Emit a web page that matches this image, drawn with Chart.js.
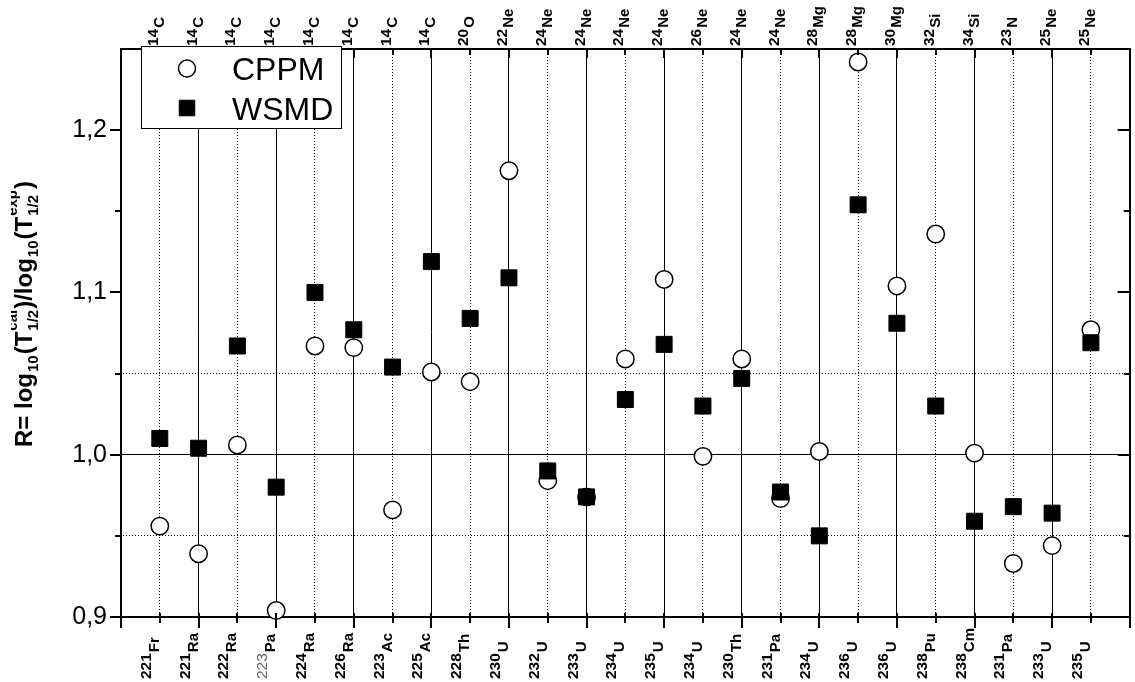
<!DOCTYPE html>
<html>
<head>
<meta charset="utf-8">
<title>R = log10(T1/2 cal) / log10(T1/2 exp)</title>
<script src="https://cdn.jsdelivr.net/npm/chart.js@4.4.1/dist/chart.umd.min.js"></script>
<style>
  html, body { margin: 0; padding: 0; background: #fff; overflow: hidden; }
  #wrap { position: relative; width: 1142px; height: 682px; }
</style>
</head>
<body>
<div id="wrap"><canvas id="c"></canvas></div>
<script>
// Parent nuclei (bottom axis) and emitted clusters (top axis)
const parents = ['221Fr','221Ra','222Ra','223Pa','224Ra','226Ra','223Ac','225Ac','228Th','230U',
                 '232U','233U','234U','235U','234U','230Th','231Pa','234U','236U','236U',
                 '238Pu','238Cm','231Pa','233U','235U'];
const clusters = ['14C','14C','14C','14C','14C','14C','14C','14C','20O','22Ne',
                  '24Ne','24Ne','24Ne','24Ne','26Ne','24Ne','24Ne','28Mg','28Mg','30Mg',
                  '32Si','34Si','23N','25Ne','25Ne'];

// R values for the two models
const cppm = [0.956, 0.939, 1.006, 0.904, 1.067, 1.066, 0.966, 1.051, 1.045, 1.175,
              0.984, 0.974, 1.059, 1.108, 0.999, 1.059, 0.973, 1.002, 1.242, 1.104,
              1.136, 1.001, 0.933, 0.944, 1.077];
const wsmd = [1.010, 1.004, 1.067, 0.980, 1.100, 1.077, 1.054, 1.119, 1.084, 1.109,
              0.990, 0.974, 1.034, 1.068, 1.030, 1.047, 0.977, 0.950, 1.154, 1.081,
              1.030, 0.959, 0.968, 0.964, 1.069];

// y axis: labelled ticks, all tick marks, dotted reference levels
const yLabelTicks = [0.9, 1.0, 1.1, 1.2];
const yAllTicks   = [0.9, 0.95, 1.0, 1.05, 1.1, 1.15, 1.2];
const yDotted     = [0.95, 1.05];

const FONT = '"Liberation Sans", Arial, Helvetica, sans-serif';
const canvas = document.getElementById('c');
const ctx0 = canvas.getContext('2d');

// dotted stroke patterns for the grid (1px on, 2px off)
function dotPattern(w, h) {
  const c = document.createElement('canvas');
  c.width = w; c.height = h;
  const g = c.getContext('2d');
  g.fillStyle = '#000';
  g.fillRect(0, 0, 1, 1);
  return ctx0.createPattern(c, 'repeat');
}
const dotsV = dotPattern(1, 3);
const dotsH = dotPattern(3, 1);

const near = (a, b) => Math.abs(a - b) < 1e-9;

// tick marks on all four sides (major / minor lengths differ)
const axisTicks = {
  id: 'axisTicks',
  afterDatasetsDraw(chart) {
    const { ctx, chartArea: a, scales: { x, y } } = chart;
    ctx.save();
    ctx.strokeStyle = '#000';
    ctx.lineWidth = 2;
    ctx.beginPath();
    for (let i = 0; i <= parents.length + 1; i++) {
      const px = Math.round(x.getPixelForValue(i));
      const major = i % 2 === 0;
      ctx.moveTo(px, a.bottom - 4); ctx.lineTo(px, a.bottom + (major ? 11 : 6));
      ctx.moveTo(px, a.top);        ctx.lineTo(px, a.top + (major ? 9 : 6));
    }
    yAllTicks.forEach(v => {
      const py = Math.round(y.getPixelForValue(v));
      const major = yLabelTicks.some(t => near(t, v));
      ctx.moveTo(a.left - (major ? 11 : 6), py); ctx.lineTo(a.left, py);
      ctx.moveTo(a.right - (major ? 12 : 6), py); ctx.lineTo(a.right, py);
    });
    ctx.stroke();
    ctx.restore();
  }
};

// rotated isotope labels: mass number followed by the lowered element symbol
function drawIsotope(ctx, label, x, y, shift, thinMass) {
  const m = label.match(/^(\d+)(.+)$/);
  ctx.save();
  ctx.translate(x, y);
  ctx.rotate(-Math.PI / 2);
  ctx.textBaseline = 'alphabetic';
  ctx.textAlign = 'left';
  ctx.fillStyle = thinMass ? '#666' : '#000';
  ctx.font = (thinMass ? 'normal ' : 'bold ') + '15.5px ' + FONT;
  ctx.fillText(m[1], 0, 0);
  const w = ctx.measureText(m[1]).width;
  ctx.fillStyle = '#000';
  ctx.font = 'bold 15px ' + FONT;
  ctx.fillText(m[2], w + 1, shift);
  ctx.restore();
}

const isotopeLabels = {
  id: 'isotopeLabels',
  afterDraw(chart) {
    const { ctx, chartArea: a, scales: { x } } = chart;
    parents.forEach((p, i) => {
      const px = x.getPixelForValue(i + 1);
      drawIsotope(ctx, p, px - 9, 679, 8, p === '223Pa');
    });
    clusters.forEach((c, i) => {
      const px = x.getPixelForValue(i + 1);
      drawIsotope(ctx, c, px - 2, a.top - 3, 6, false);
    });
  }
};

// y axis title with sub/superscripts
const titleParts = [
  { t: 'R= log' }, { sub: '10' }, { t: '(T' }, { sup: 'cal', sub: '1/2' },
  { t: ')/log' }, { sub: '10' }, { t: '(T' }, { sup: 'exp', sub: '1/2' }, { t: ')' }
];
const yTitle = {
  id: 'yTitle',
  afterDraw(chart) {
    const { ctx } = chart;
    ctx.save();
    ctx.beginPath();
    ctx.rect(11, 0, 60, chart.height);
    ctx.clip();
    ctx.translate(32, 447);
    ctx.rotate(-Math.PI / 2);
    ctx.fillStyle = '#000';
    ctx.textBaseline = 'alphabetic';
    const big = 'bold 24px ' + FONT, small = 'bold 15px ' + FONT;
    let cx = 0;
    titleParts.forEach(p => {
      if (p.t) {
        ctx.font = big;
        ctx.fillText(p.t, cx, 0);
        cx += ctx.measureText(p.t).width;
      } else {
        ctx.font = small;
        let w = 0;
        if (p.sup) { ctx.fillText(p.sup, cx + 1, -15); w = Math.max(w, ctx.measureText(p.sup).width); }
        if (p.sub) { ctx.fillText(p.sub, cx + 1, 6); w = Math.max(w, ctx.measureText(p.sub).width); }
        cx += w + 2;
      }
    });
    ctx.restore();
  }
};

// boxed legend in the upper left corner of the plot
const boxLegend = {
  id: 'boxLegend',
  afterDraw(chart) {
    const { ctx } = chart;
    ctx.save();
    ctx.fillStyle = '#fff';
    ctx.fillRect(141, 46, 200, 82);
    ctx.strokeStyle = '#000';
    ctx.lineWidth = 1;
    ctx.strokeRect(141.5, 46.5, 200, 82);
    const rows = [68.5, 108];
    chart.data.datasets.forEach((ds, i) => {
      ctx.fillStyle = ds.pointBackgroundColor;
      ctx.strokeStyle = ds.pointBorderColor;
      ctx.lineWidth = ds.pointBorderWidth;
      Chart.helpers.drawPoint(ctx, {
        pointStyle: ds.pointStyle,
        radius: ds.pointStyle === 'circle' ? 8.5 : 11,
        rotation: 0,
        borderWidth: ds.pointBorderWidth
      }, 187, rows[i]);
      ctx.fillStyle = '#000';
      ctx.font = '32px ' + FONT;
      ctx.textBaseline = 'alphabetic';
      ctx.fillText(ds.label, 232, rows[i] + 11.5);
    });
    ctx.restore();
  }
};

const pts = arr => arr.map((v, i) => ({ x: i + 1, y: v }));

new Chart(canvas, {
  type: 'scatter',
  data: {
    datasets: [
      {
        label: 'CPPM',
        data: pts(cppm),
        pointStyle: 'circle',
        pointRadius: 8.7,
        pointBackgroundColor: '#fff',
        pointBorderColor: '#000',
        pointBorderWidth: 1.5,
        order: 2,
        clip: false
      },
      {
        label: 'WSMD',
        data: pts(wsmd),
        pointStyle: 'rect',
        pointRadius: 11.3,
        pointBackgroundColor: '#000',
        pointBorderColor: '#000',
        pointBorderWidth: 1,
        order: 1,
        clip: false
      }
    ]
  },
  options: {
    responsive: true,
    maintainAspectRatio: false,
    animation: false,
    events: [],
    layout: { padding: 0 },
    plugins: { legend: { display: false }, tooltip: { enabled: false } },
    scales: {
      x: {
        type: 'linear', position: 'bottom', min: 0, max: parents.length + 1,
        afterBuildTicks: s => { s.ticks = parents.map((_, i) => ({ value: i + 1 })); },
        afterFit: s => { s.height = 65; },
        ticks: { display: false },
        grid: {
          drawTicks: false, lineWidth: 1,
          color: c => (c.tick && c.tick.value % 2 === 0) ? '#000' : dotsV
        },
        border: { display: true, color: '#000', width: 2 }
      },
      xTop: {
        type: 'linear', position: 'top', min: 0, max: parents.length + 1,
        afterFit: s => { s.height = 49; },
        ticks: { display: false },
        grid: { drawTicks: false, color: 'rgba(0,0,0,0)' },
        border: { display: true, color: '#000', width: 2 }
      },
      y: {
        type: 'linear', position: 'left', min: 0.9, max: 1.25,
        afterBuildTicks: s => { s.ticks = yLabelTicks.map(v => ({ value: v })); },
        afterFit: s => { s.width = 121; },
        ticks: {
          autoSkip: false, padding: 14, color: '#000',
          font: { family: FONT, size: 25 },
          callback: v => v.toFixed(1).replace('.', ',')
        },
        grid: {
          drawTicks: false, lineWidth: 1,
          color: c => (c.tick && near(c.tick.value, 1.0)) ? '#000' : 'rgba(0,0,0,0)'
        },
        border: { display: true, color: '#000', width: 2 }
      },
      yRight: {
        type: 'linear', position: 'right', min: 0.9, max: 1.25,
        afterBuildTicks: s => { s.ticks = yDotted.map(v => ({ value: v })); },
        afterFit: s => { s.width = 4; },
        ticks: { display: false },
        grid: { drawTicks: false, lineWidth: 1, color: dotsH },
        border: { display: true, color: '#000', width: 2 }
      }
    }
  },
  plugins: [axisTicks, isotopeLabels, yTitle, boxLegend]
});
</script>
</body>
</html>
